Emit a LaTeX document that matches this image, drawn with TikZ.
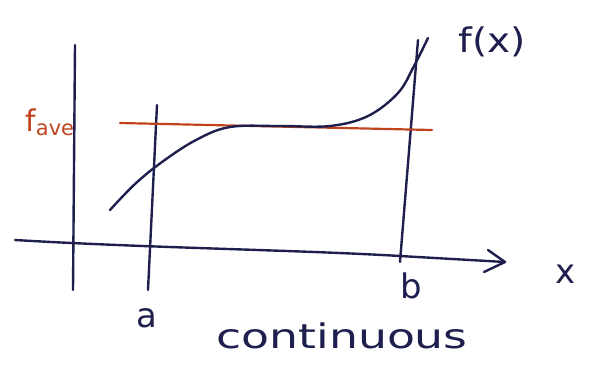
\documentclass[tikz,border=0pt]{standalone}
\usepackage{fontspec}
\setmainfont{DejaVu Sans}
\usetikzlibrary{arrows.meta}
\definecolor{ink}{HTML}{1E1F4E}
\definecolor{redink}{HTML}{C0451F}
\tikzset{
  pen/.style={draw=ink, line width=2.4pt, line cap=round, line join=round},
  redpen/.style={draw=redink, line width=2.2pt, line cap=round},
  lbl/.style={text=ink, inner sep=0pt, font=\fontsize{34}{34}\selectfont},
  redlbl/.style={text=redink, inner sep=0pt, font=\fontsize{30}{30}\selectfont},
}
\begin{document}
\begin{tikzpicture}[x=1bp, y=-1bp]
\useasboundingbox[fill=white] (0,0) rectangle (589,369);
% axes
\draw[pen] (75,45) -- (73,290);
\coordinate (xs) at (15,240);
\coordinate (xe) at (505,262);
\draw[pen] (xs) .. controls (150,248) and (300,250) .. (400,256) -- (xe);
\draw[pen] (488,250) -- (505,262) -- (484,272);
% a and b lines
\draw[pen] (157,105) -- (148,290);
\draw[pen] (418,40) -- (400,262);
% f_ave line
\draw[redpen] (120,123) -- (432,130);
% f(x) curve
\draw[pen] plot[smooth, tension=0.6] coordinates {(110,210) (135,184) (162,162) (196,140) (230,127) (280,126) (330,126) (368,116) (398,93) (414,66) (428,38)};
% labels
\node[lbl, xscale=1.15] (fx) at (492,42) {f(x)};
\node[redlbl] (fave) at (50,122) {f\textsubscript{ave}};
\node[lbl] (a) at (147,318) {a};
\node[lbl] (b) at (411,286) {b};
\node[lbl] (x) at (566,274) {x};
\node[lbl, xscale=1.35] (cont) at (342,336) {continuous};
\end{tikzpicture}
\end{document}
